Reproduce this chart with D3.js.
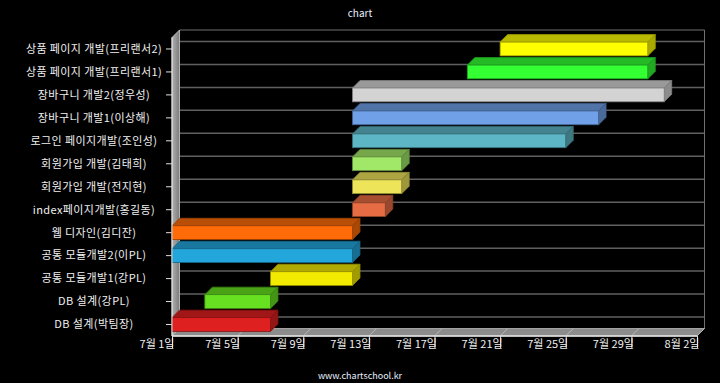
<!DOCTYPE html>
<html><head><meta charset="utf-8">
<script src="https://cdn.jsdelivr.net/npm/d3@7"></script>
<style>html,body{margin:0;padding:0;background:#000;}svg{display:block;}</style>
</head><body>
<svg id="c" width="720" height="383"></svg>
<script>
const categories = [
  "상품 페이지 개발(프리랜서2)",
  "상품 페이지 개발(프리랜서1)",
  "장바구니 개발2(정우성)",
  "장바구니 개발1(이상해)",
  "로그인 페이지개발(조인성)",
  "회원가입 개발(김태희)",
  "회원가입 개발(전지현)",
  "index페이지개발(홍길동)",
  "웹 디자인(김디잔)",
  "공통 모듈개발2(이PL)",
  "공통 모듈개발1(강PL)",
  "DB 설계(강PL)",
  "DB 설계(박팀장)"
];
const startDates = ["2013-07-21","2013-07-19","2013-07-12","2013-07-12","2013-07-12","2013-07-12","2013-07-12","2013-07-12","2013-07-01","2013-07-01","2013-07-07","2013-07-03","2013-07-01"];
const endDates   = ["2013-07-30","2013-07-30","2013-07-31","2013-07-27","2013-07-25","2013-07-15","2013-07-15","2013-07-14","2013-07-12","2013-07-12","2013-07-12","2013-07-07","2013-07-07"];
const barColors  = ["#ffff00","#33ff33","#d3d3d3","#6fa0e8","#5cb6c6","#a2e868","#eee45a","#e66c44","#ff6b08","#22a6dc","#f2ea00","#66e020","#de2020"];
const tickDates  = ["2013-07-01","2013-07-05","2013-07-09","2013-07-13","2013-07-17","2013-07-21","2013-07-25","2013-07-29","2013-08-02"];
const titleText = "chart";
const footerText = "www.chartschool.kr";

(function(){
const parse = d3.timeParse("%Y-%m-%d");
const svg = d3.select("#c");
const W = 720;
const pL = 172, pR = 697, pT = 37.5, pB = 336;
const D = 7.5; // depth offset

const x = d3.scaleTime().domain([parse(tickDates[0]), parse(tickDates[tickDates.length-1])]).range([pL, pR]);
const y = d3.scaleBand().domain(categories).range([pT, pB]).paddingInner(0.4).paddingOuter(0.2);

const font = "'Noto Sans CJK KR','Noto Sans',sans-serif";

svg.append("text").attr("x", W/2).attr("y", 17).attr("text-anchor","middle")
  .attr("fill","#e8f0ff").attr("font-family",font).attr("font-size",10).text(titleText);
svg.append("text").attr("x", W/2).attr("y", 379).attr("text-anchor","middle")
  .attr("fill","#e8f0ff").attr("font-family",font).attr("font-size",9).text(footerText);

const defs = svg.append("defs");
const g1 = defs.append("linearGradient").attr("id","wallg").attr("x1","0").attr("x2","1").attr("y1","0").attr("y2","0");
g1.append("stop").attr("offset","0").attr("stop-color","#b0b0b0");
g1.append("stop").attr("offset","1").attr("stop-color","#7a7a7a");

const centers = categories.map(c => y(c) + y.bandwidth()/2);
svg.append("g").selectAll("line").data(centers).join("line")
  .attr("x1", pL + D).attr("x2", pR + D)
  .attr("y1", d => d - D).attr("y2", d => d - D)
  .attr("stroke","#606060").attr("stroke-width",1.5);
svg.append("path")
  .attr("d", `M${pL+D},${pT-D}L${pR+D},${pT-D}L${pR+D},${pB-D}`)
  .attr("fill","none").attr("stroke","#707070").attr("stroke-width",1);

svg.append("path")
  .attr("d", `M${pL},${pT}L${pL+D},${pT-D}L${pL+D},${pB-D}L${pL},${pB}Z`)
  .attr("fill","url(#wallg)").attr("stroke","#d0d0d0").attr("stroke-width",0.8);

svg.append("path")
  .attr("d", `M${pL},${pB}L${pR},${pB}L${pR+D},${pB-D}L${pL+D},${pB-D}Z`)
  .attr("fill","#8c8c8c").attr("stroke","#bbbbbb").attr("stroke-width",0.8);
svg.append("g").selectAll("line").data(tickDates.map(parse)).join("line")
  .attr("x1", d => x(d)).attr("y1", pB).attr("x2", d => x(d) + D).attr("y2", pB - D)
  .attr("stroke","#b8b8b8").attr("stroke-width",1);

const yAxis = svg.append("g");
yAxis.selectAll("line").data(categories).join("line")
  .attr("x1", pL - 6).attr("x2", pL).attr("y1", c => y(c)+y.bandwidth()/2).attr("y2", c => y(c)+y.bandwidth()/2)
  .attr("stroke","#e0e0e0");
yAxis.selectAll("text").data(categories).join("text")
  .attr("x", 94).attr("y", c => y(c)+y.bandwidth()/2).attr("dy","0.35em")
  .attr("text-anchor","middle").attr("fill","#f0f0f0").attr("font-family",font).attr("font-size",11)
  .attr("letter-spacing", 0.4)
  .text(c => c);

const bars = svg.append("g");
categories.forEach((c, i) => {
  const x0 = x(parse(startDates[i])), x1 = x(parse(endDates[i]));
  const y0 = y(c), h = y.bandwidth();
  const col = d3.color(barColors[i]);
  const topCol = col.darker(0.9), sideCol = col.darker(1.15), edge = col.darker(1.4);
  bars.append("path")
    .attr("d", `M${x0},${y0}L${x0+D},${y0-D}L${x1+D},${y0-D}L${x1},${y0}Z`)
    .attr("fill", topCol).attr("stroke", edge).attr("stroke-width",0.8);
  bars.append("path")
    .attr("d", `M${x1},${y0}L${x1+D},${y0-D}L${x1+D},${y0+h-D}L${x1},${y0+h}Z`)
    .attr("fill", sideCol).attr("stroke", edge).attr("stroke-width",0.8);
  bars.append("rect").attr("x", x0).attr("y", y0).attr("width", x1-x0).attr("height", h)
    .attr("fill", col).attr("stroke", edge).attr("stroke-width",0.8);
});

svg.append("line").attr("x1", pL).attr("x2", pR).attr("y1", pB).attr("y2", pB)
  .attr("stroke","#e6e6e6").attr("stroke-width",1.5);
svg.append("line").attr("x1", pL).attr("x2", pL).attr("y1", pT).attr("y2", pB)
  .attr("stroke","#e6e6e6").attr("stroke-width",1);

const xAxis = d3.axisBottom(x).tickValues(tickDates.map(parse))
  .tickFormat(d => `${d.getMonth()+1}월 ${d.getDate()}일`).tickSize(12).tickPadding(-1);
const xa = svg.append("g").attr("transform", `translate(0,${pB})`).call(xAxis);
xa.select(".domain").remove();
xa.selectAll(".tick line").attr("stroke","#e0e0e0");
xa.selectAll(".tick text").attr("text-anchor","end").attr("dx","2").attr("y", 4)
  .attr("fill","#f0f0f0").attr("font-family",font).attr("font-size",11);
})();
</script>
</body></html>
